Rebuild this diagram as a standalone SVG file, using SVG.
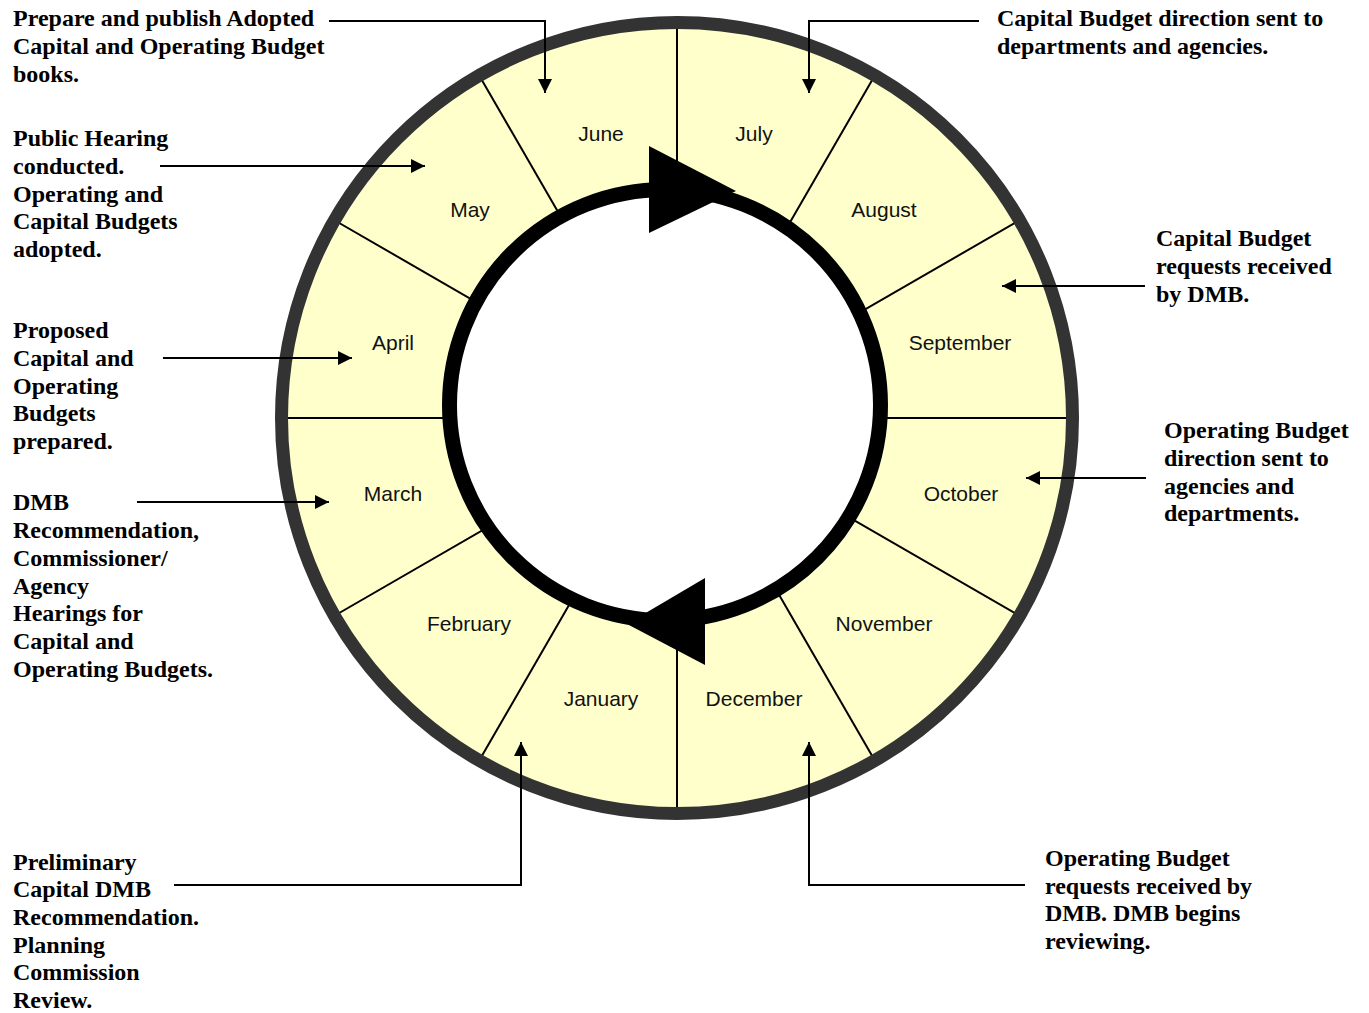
<svg xmlns="http://www.w3.org/2000/svg" width="1369" height="1013" viewBox="0 0 1369 1013">
<style>
.note{font-family:"Liberation Serif","Times New Roman",serif;font-weight:bold;font-size:24px;fill:#000}
.month{font-family:"Liberation Sans",Arial,sans-serif;font-size:21px;fill:#111;text-anchor:middle}
.div{stroke:#000;stroke-width:2;fill:none}
.conn{stroke:#000;stroke-width:2;fill:none;marker-end:url(#arr)}
</style>
<defs>
<marker id="arr" viewBox="0 0 10 10" refX="10" refY="5" markerWidth="15" markerHeight="14" markerUnits="userSpaceOnUse" orient="auto">
<path d="M0,0 L10,5 L0,10 z" fill="#000"/>
</marker>
</defs>
<rect width="1369" height="1013" fill="#fff"/>
<g id="wheel">
<circle cx="677" cy="418" r="395" fill="#FFFFCC"/>
<g class="div">
<line x1="282" y1="418" x2="1072" y2="418"/>
<line x1="334.9" y1="220.5" x2="1019.1" y2="615.5"/>
<line x1="479.5" y1="75.9" x2="874.5" y2="760.1"/>
<line x1="677" y1="23" x2="677" y2="813"/>
<line x1="874.5" y1="75.9" x2="479.5" y2="760.1"/>
<line x1="1019.1" y1="220.5" x2="334.9" y2="615.5"/>
</g>
<circle cx="677" cy="418" r="395.5" fill="none" stroke="#333333" stroke-width="13"/>
<circle cx="665" cy="405" r="215.5" fill="#fff" stroke="#000" stroke-width="15"/>
<polygon points="649,146 649,233 736,191" fill="#000"/>
<polygon points="705,578 705,665 627,624" fill="#000"/>
</g>
<g id="months">
<text class="month" x="601" y="141">June</text>
<text class="month" x="754" y="141">July</text>
<text class="month" x="884" y="217">August</text>
<text class="month" x="960" y="350">September</text>
<text class="month" x="961" y="501">October</text>
<text class="month" x="884" y="631">November</text>
<text class="month" x="754" y="706">December</text>
<text class="month" x="601" y="706">January</text>
<text class="month" x="469" y="631">February</text>
<text class="month" x="393" y="501">March</text>
<text class="month" x="393" y="350">April</text>
<text class="month" x="470" y="217">May</text>
</g>
<g id="connectors">
<polyline class="conn" points="329,21 545,21 545,93"/>
<polyline class="conn" points="979,21 809,21 809,93"/>
<polyline class="conn" points="1145,286 1002,286"/>
<polyline class="conn" points="1146,478 1026,478"/>
<polyline class="conn" points="1025,885 809,885 809,742"/>
<polyline class="conn" points="174,885 521,885 521,742"/>
<polyline class="conn" points="137,502 329,502"/>
<polyline class="conn" points="163,358 352,358"/>
<polyline class="conn" points="160,166 425,166"/>
</g>
<g id="note-june">
<text class="note" x="13" y="26">Prepare and publish Adopted</text>
<text class="note" x="13" y="54">Capital and Operating Budget</text>
<text class="note" x="13" y="82">books.</text>
</g>
<g id="note-may">
<text class="note" x="13" y="146">Public Hearing</text>
<text class="note" x="13" y="174">conducted.</text>
<text class="note" x="13" y="202">Operating and</text>
<text class="note" x="13" y="229">Capital Budgets</text>
<text class="note" x="13" y="257">adopted.</text>
</g>
<g id="note-april">
<text class="note" x="13" y="338">Proposed</text>
<text class="note" x="13" y="366">Capital and</text>
<text class="note" x="13" y="394">Operating</text>
<text class="note" x="13" y="421">Budgets</text>
<text class="note" x="13" y="449">prepared.</text>
</g>
<g id="note-march">
<text class="note" x="13" y="510">DMB</text>
<text class="note" x="13" y="538">Recommendation,</text>
<text class="note" x="13" y="566">Commissioner/</text>
<text class="note" x="13" y="594">Agency</text>
<text class="note" x="13" y="621">Hearings for</text>
<text class="note" x="13" y="649">Capital and</text>
<text class="note" x="13" y="677">Operating Budgets.</text>
</g>
<g id="note-january">
<text class="note" x="13" y="870">Preliminary</text>
<text class="note" x="13" y="897">Capital DMB</text>
<text class="note" x="13" y="925">Recommendation.</text>
<text class="note" x="13" y="953">Planning</text>
<text class="note" x="13" y="980">Commission</text>
<text class="note" x="13" y="1008">Review.</text>
</g>
<g id="note-july">
<text class="note" x="997" y="26">Capital Budget direction sent to</text>
<text class="note" x="997" y="54">departments and agencies.</text>
</g>
<g id="note-september">
<text class="note" x="1156" y="246">Capital Budget</text>
<text class="note" x="1156" y="274">requests received</text>
<text class="note" x="1156" y="302">by DMB.</text>
</g>
<g id="note-october">
<text class="note" x="1164" y="438">Operating Budget</text>
<text class="note" x="1164" y="466">direction sent to</text>
<text class="note" x="1164" y="494">agencies and</text>
<text class="note" x="1164" y="521">departments.</text>
</g>
<g id="note-december">
<text class="note" x="1045" y="866">Operating Budget</text>
<text class="note" x="1045" y="894">requests received by</text>
<text class="note" x="1045" y="921">DMB. DMB begins</text>
<text class="note" x="1045" y="949">reviewing.</text>
</g>
</svg>
